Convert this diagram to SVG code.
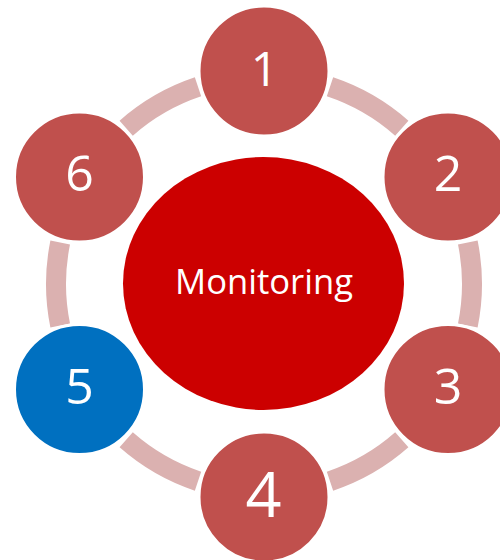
<svg xmlns="http://www.w3.org/2000/svg" width="500" height="560" viewBox="0 0 500 560">
  <style>
    .ring { fill: none; stroke: #dbb1b0; stroke-width: 20; stroke-linecap: butt; }
    .node { fill: #c0504d; stroke: #ffffff; stroke-width: 3; }
    .blue { fill: #0070c0; }
    .num { font-family: "Open Sans", "Liberation Sans", sans-serif; fill: #ffffff; text-anchor: middle; font-size: 50px; }
    .center { fill: #cc0000; }
    .label { font-family: "Open Sans", "Liberation Sans", sans-serif; fill: #ffffff; text-anchor: middle; font-size: 34.5px; }
  </style>
  <rect width="500" height="560" fill="#ffffff"/>
  <g id="connectors">
    <path class="ring" d="M330.0 86.8 A208 208 0 0 1 401.8 128.2"/>
    <path class="ring" d="M467.8 242.5 A208 208 0 0 1 467.8 325.5"/>
    <path class="ring" d="M401.8 439.8 A208 208 0 0 1 330.0 481.2"/>
    <path class="ring" d="M198.0 481.2 A208 208 0 0 1 126.2 439.8"/>
    <path class="ring" d="M60.2 325.5 A208 208 0 0 1 60.2 242.5"/>
    <path class="ring" d="M126.2 128.2 A208 208 0 0 1 198.0 86.8"/>
  </g>
  <g id="center">
    <ellipse class="center" cx="263.5" cy="283.5" rx="140.5" ry="126.5"/>
    <text class="label" x="264" y="294" textLength="178" lengthAdjust="spacingAndGlyphs">Monitoring</text>
  </g>
  <g id="node1">
    <circle class="node" cx="264" cy="71" r="65"/>
    <text class="num" x="264.5" y="86" style="font-size:48px">1</text>
  </g>
  <g id="node2">
    <circle class="node" cx="448" cy="177" r="65"/>
    <text class="num" x="448" y="191">2</text>
  </g>
  <g id="node3">
    <circle class="node" cx="448" cy="389.5" r="65"/>
    <text class="num" x="448" y="404">3</text>
  </g>
  <g id="node4">
    <circle class="node" cx="264" cy="497" r="65"/>
    <text class="num" x="263.5" y="517" style="font-size:63px">4</text>
  </g>
  <g id="node5">
    <circle class="node blue" cx="79.5" cy="389.5" r="65"/>
    <text class="num" x="79.5" y="404">5</text>
  </g>
  <g id="node6">
    <circle class="node" cx="79.5" cy="177" r="65"/>
    <text class="num" x="79.5" y="191">6</text>
  </g>
</svg>
